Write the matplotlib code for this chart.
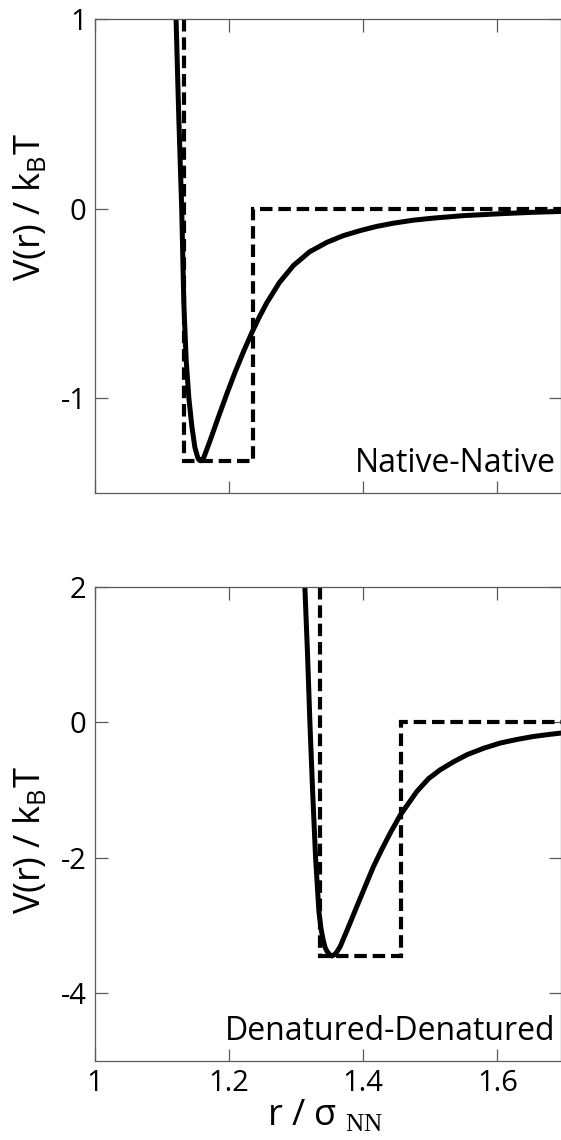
#!/usr/bin/env python3
"""
Pair potentials V(r)/kBT: continuous curve vs. square-well approximation,
for native-native and denatured-denatured contacts.
"""

import matplotlib
matplotlib.use("Agg")
import matplotlib.pyplot as plt

# -----------------------------
# Data
# -----------------------------
# Native-Native (top panel)
NN_R = [1.1209, 1.1248, 1.1293, 1.1325, 1.1360, 1.1400, 1.1445, 1.1490, 1.1530,
        1.1550, 1.1570, 1.1590, 1.1620, 1.1716, 1.1840, 1.1965, 1.2090, 1.2214,
        1.2338, 1.2450, 1.2562, 1.2750, 1.2960, 1.3200, 1.3458, 1.3700, 1.3955,
        1.4200, 1.4450, 1.4750, 1.5050, 1.5500, 1.6045, 1.6500, 1.6950]
NN_V = [1.00, 0.50, 0.00, -0.50, -0.80, -1.00, -1.15, -1.26, -1.31,
        -1.325, -1.33, -1.327, -1.315, -1.224, -1.10, -0.978, -0.862, -0.755,
        -0.655, -0.572, -0.497, -0.390, -0.300, -0.228, -0.178, -0.143, -0.116,
        -0.094, -0.077, -0.061, -0.050, -0.037, -0.027, -0.020, -0.015]
NN_WELL_R = [1.133, 1.133, 1.235, 1.235, 1.695]
NN_WELL_V = [1.0, -1.33, -1.33, 0.0, 0.0]

# Denatured-Denatured (bottom panel)
DD_R = [1.3130, 1.3170, 1.3205, 1.3245, 1.3290, 1.3340, 1.3370, 1.3400, 1.3430,
        1.3460, 1.3500, 1.3530, 1.3570, 1.3600, 1.3657, 1.3780, 1.3905, 1.4030,
        1.4154, 1.4280, 1.4403, 1.4552, 1.4800, 1.4975, 1.5149, 1.5350, 1.5548,
        1.5800, 1.6045, 1.6300, 1.6542, 1.6750, 1.6950]
DD_V = [2.00, 1.00, 0.00, -1.00, -2.00, -2.80, -3.04, -3.20, -3.32,
        -3.38, -3.43, -3.45, -3.43, -3.40, -3.31, -3.02, -2.718, -2.42,
        -2.127, -1.87, -1.634, -1.37, -1.02, -0.83, -0.699, -0.58, -0.477,
        -0.38, -0.304, -0.25, -0.207, -0.18, -0.157]
DD_WELL_R = [1.335, 1.335, 1.457, 1.457, 1.695]
DD_WELL_V = [2.0, -3.45, -3.45, 0.0, 0.0]

X_TICKS = [1.0, 1.2, 1.4, 1.6]
X_TICK_LABELS = ["1", "1.2", "1.4", "1.6"]
NN_Y_TICKS = [-1, 0, 1]
DD_Y_TICKS = [-4, -2, 0, 2]

FONT = "Open Sans"
SPINE_GRAY = "#5a5a5a"


def style_axes(ax, yticks, ylim):
    ax.set_xlim(1.0, 1.695)
    ax.set_ylim(*ylim)
    ax.set_xticks(X_TICKS)
    ax.set_yticks(yticks)
    ax.set_yticklabels([str(t) for t in yticks])
    for spine in ax.spines.values():
        spine.set_color(SPINE_GRAY)
        spine.set_linewidth(0.9)
    ax.tick_params(direction="in", length=9, width=0.9, color=SPINE_GRAY,
                   top=True, right=True, labelsize=21, pad=6)


def draw_panel(ax, r, v, well_r, well_v, label, yticks, ylim):
    ax.plot(well_r, well_v, color="black", lw=3.0, linestyle=(0, (3.0, 1.4)),
            dash_joinstyle="miter", dash_capstyle="butt")
    ax.plot(r, v, color="black", lw=3.6, solid_joinstyle="round")
    style_axes(ax, yticks, ylim)
    ax.text(0.988, 0.045, label, transform=ax.transAxes, ha="right",
            va="baseline", fontsize=23)


def main() -> None:
    plt.rcParams["font.family"] = [FONT, "DejaVu Sans"]
    plt.rcParams["axes.unicode_minus"] = False
    plt.rcParams["mathtext.fontset"] = "custom"
    plt.rcParams["mathtext.rm"] = "Liberation Serif"
    plt.rcParams["mathtext.sf"] = FONT

    fig = plt.figure(figsize=(5.61, 11.4), dpi=100)
    left, width, height = 95 / 561, 466 / 561, 474 / 1140
    ax_top = fig.add_axes([left, (1140 - 493) / 1140, width, height])
    ax_bot = fig.add_axes([left, (1140 - 1061) / 1140, width, height])

    draw_panel(ax_top, NN_R, NN_V, NN_WELL_R, NN_WELL_V, "Native-Native",
               NN_Y_TICKS, (-1.5, 1.0))
    draw_panel(ax_bot, DD_R, DD_V, DD_WELL_R, DD_WELL_V, "Denatured-Denatured",
               DD_Y_TICKS, (-5.0, 2.0))

    ax_top.set_xticklabels([])
    ax_bot.set_xticklabels(X_TICK_LABELS)

    ylabel = r"V(r) / k$_{\mathsf{B}}$T"
    fig.text(30 / 561, (1140 - 207) / 1140, ylabel, rotation=90,
             ha="center", va="center", fontsize=26)
    fig.text(30 / 561, (1140 - 840) / 1140, ylabel, rotation=90,
             ha="center", va="center", fontsize=26)
    fig.text(325 / 561, (1140 - 1125) / 1140, r"r / σ $_{\mathrm{NN}}$",
             ha="center", va="baseline", fontsize=26)

    fig.savefig("out.png", dpi=100)
    plt.close(fig)


if __name__ == "__main__":
    main()
